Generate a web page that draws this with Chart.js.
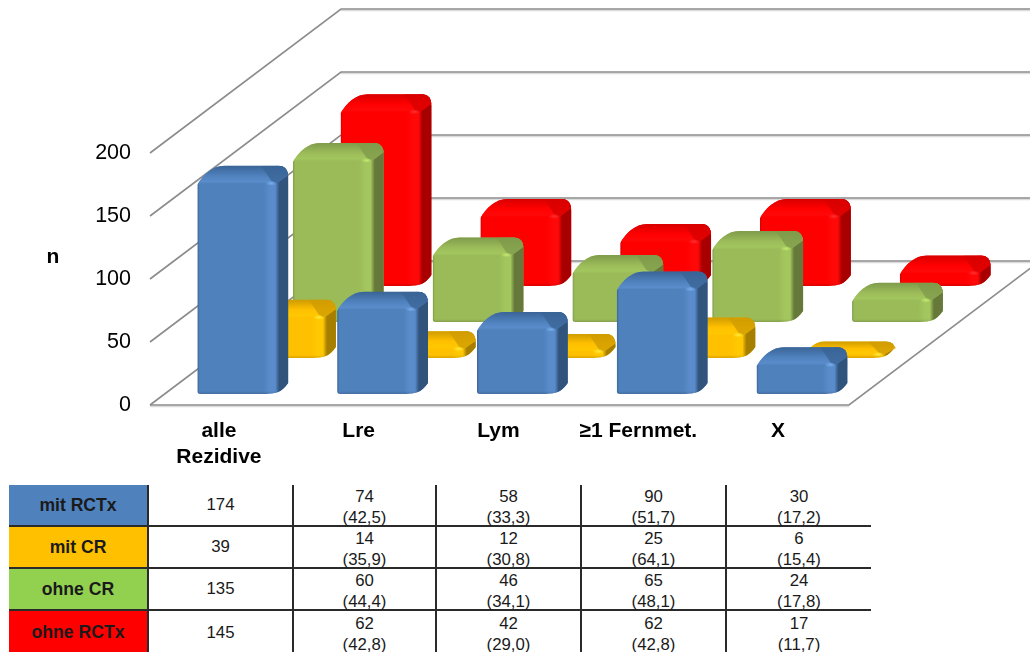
<!DOCTYPE html>
<html>
<head>
<meta charset="utf-8">
<title>Rezidive</title>
<script src="https://cdn.jsdelivr.net/npm/chart.js@4/dist/chart.umd.min.js"></script>
<style>
    html, body { margin: 0; padding: 0; background: #fff; overflow: hidden; }
    #wrap { position: relative; width: 1030px; height: 652px; overflow: hidden; font-family: "Liberation Sans", Arial, sans-serif; }
    #recurrence { position: absolute; left: 0; top: 0; }
    #counts { position: absolute; left: 9px; top: 485px; width: 862px; table-layout: fixed; border-collapse: collapse; color: #1a1a1a; font-size: 16.8px; text-align: center; }
    #counts td { padding: 0; border-top: 2px solid #2a2a2a; border-left: 2px solid #2a2a2a; box-sizing: border-box; }
    #counts td div { margin: -0.5px 0 -2.5px; padding-top: 1px; line-height: 21px; }
    #counts tr:first-child td { border-top: none; }
    #counts td:first-child { border-left: none; font-weight: bold; font-size: 17.6px; }
</style>
</head>
<body>
<div id="wrap">
    <canvas id="recurrence" width="1030" height="484"></canvas>
    <table id="counts"></table>
</div>
<script>
const categories = [['alle', 'Rezidive'], 'Lre', 'Lym', '≥1 Fernmet.', 'X'];
const seriesNames = ['mit RCTx', 'mit CR', 'ohne CR', 'ohne RCTx'];
const yTicks = [0, 50, 100, 150, 200];

const mitRCTx = [174, 74, 58, 90, 30];
const mitCR = [39, 14, 12, 25, 6];
const ohneCR = [135, 60, 46, 65, 24];
const ohneRCTx = [145, 62, 42, 62, 17];

const pctMitRCTx = [null, '42,5', '33,3', '51,7', '17,2'];
const pctMitCR = [null, '35,9', '30,8', '64,1', '15,4'];
const pctOhneCR = [null, '44,4', '34,1', '48,1', '17,8'];
const pctOhneRCTx = [null, '42,8', '29,0', '42,8', '11,7'];

// face, side, back of the cap, lit strip, glint (as r,g,b), table cell
const palettes = [
    { face: '#4f81bd', side: '#31547d', cap: '#3a6496', light: '#5a8ccb', spot: '120,175,240', cell: '#4f81bd' },
    { face: '#ffc000', side: '#a67e00', cap: '#cf9c00', light: '#ffc800', spot: '255,235,60', cell: '#ffc000' },
    { face: '#9bbb59', side: '#66793a', cap: '#7f9b4b', light: '#a3c65e', spot: '195,235,110', cell: '#92d050' },
    { face: '#ff0000', side: '#a80000', cap: '#d80000', light: '#ff0808', spot: '255,50,50', cell: '#ff0000' }
];

const rowHeights = [41, 42, 41, 44];
const colWidths = [139, 145, 143, 145, 145, 145];

const DEPTH_X = 191, DEPTH_Y = 144;   // oblique offset of the back wall
const SIDE = 12, FOOT = 9, BEVEL = 17;

function silhouette(ctx, L, R, T, F, B) {
    const Rf = R - SIDE;
    const k = (F - T) / BEVEL;
    ctx.beginPath();
    ctx.moveTo(L, B - 3);
    ctx.lineTo(L, F + 2);
    ctx.bezierCurveTo(L + 6 * k, F - 8 * k, L + 15 * k, T, L + 27 * k, T);
    ctx.lineTo(R - 10, T);
    ctx.quadraticCurveTo(R, T, R, T + 12 * k);
    ctx.lineTo(R, B - FOOT - 2);
    ctx.quadraticCurveTo(Rf + 7, B - 4, Rf + 2, B - 2);
    ctx.quadraticCurveTo(Rf - 3, B, Rf - 10, B);
    ctx.lineTo(L + 3, B);
    ctx.quadraticCurveTo(L, B, L, B - 3);
    ctx.closePath();
}

function drawBar(ctx, el, row, pal) {
    const sx = DEPTH_X * (row + 0.5) / 4 - 1, sy = DEPTH_Y * (row + 0.5) / 4;
    const L = el.x + sx - el.width / 2, R = L + el.width, Rf = R - SIDE;
    const B = el.base - sy + 7;
    const T = el.y - sy - 2;
    const F = Math.min(T + BEVEL, B - 4);

    ctx.save();
    silhouette(ctx, L, R, T, F, B);
    ctx.clip();

    // front face with the lit strip on its right edge
    const face = ctx.createLinearGradient(L, 0, Rf, 0);
    face.addColorStop(0, pal.cap);
    face.addColorStop(0.03, pal.face);
    face.addColorStop(0.84, pal.face);
    face.addColorStop(0.92, pal.light);
    face.addColorStop(1, pal.light);
    ctx.fillStyle = face;
    ctx.fillRect(L, T, R - L, B - T);

    // side face, blending out of the lit strip
    const side = ctx.createLinearGradient(Rf - 1, 0, Rf + 3, 0);
    side.addColorStop(0, pal.light);
    side.addColorStop(1, pal.side);
    ctx.fillStyle = side;
    ctx.beginPath();
    ctx.moveTo(Rf - 1, B + 1);
    ctx.lineTo(R + 1, B - FOOT);
    ctx.lineTo(R + 1, T);
    ctx.lineTo(Rf - 1, T);
    ctx.closePath();
    ctx.fill();

    // top of the bar, fading from the back edge to the lit front edge
    const capEdge = T + (F - T) * 0.5;
    const cap = ctx.createLinearGradient(0, T, 0, F + 1);
    cap.addColorStop(0, pal.cap);
    cap.addColorStop(0.55, pal.face);
    cap.addColorStop(0.88, pal.light);
    cap.addColorStop(1, pal.face);
    ctx.fillStyle = cap;
    ctx.beginPath();
    ctx.moveTo(L - 1, F + 1);
    ctx.lineTo(L - 1, T - 1);
    ctx.lineTo(R + 1, T - 1);
    ctx.lineTo(R + 1, capEdge);
    ctx.lineTo(Rf, F + 1);
    ctx.closePath();
    ctx.fill();

    // darker wedge where the top turns towards the side
    ctx.fillStyle = pal.cap;
    ctx.globalAlpha = 0.8;
    ctx.beginPath();
    ctx.moveTo(Rf - 15, T);
    ctx.lineTo(R + 1, T);
    ctx.lineTo(R + 1, capEdge);
    ctx.lineTo(Rf, F + 1);
    ctx.lineTo(Rf - 5, F - 2);
    ctx.closePath();
    ctx.fill();
    ctx.globalAlpha = 1;

    // small glint on the front corner
    ctx.save();
    ctx.translate(Rf - 5, F + 0.5);
    ctx.scale(1, 0.4);
    const glint = ctx.createRadialGradient(0, 0, 0, 0, 0, 6);
    glint.addColorStop(0, 'rgba(' + pal.spot + ',1)');
    glint.addColorStop(1, 'rgba(' + pal.spot + ',0)');
    ctx.fillStyle = glint;
    ctx.fillRect(-6, -6, 12, 12);
    ctx.restore();

    // foot shading
    const foot = ctx.createLinearGradient(0, B - 3, 0, B);
    foot.addColorStop(0, 'rgba(0,0,0,0)');
    foot.addColorStop(1, 'rgba(0,0,0,0.14)');
    ctx.fillStyle = foot;
    ctx.fillRect(L, B - 3, Rf - L, 3);
    ctx.restore();
}

const bars3d = {
    id: 'bars3d',
    beforeDatasetsDraw(chart) {
        const { ctx, scales: { x, y } } = chart;
        const left = x.left, right = x.right;
        ctx.save();
        ctx.lineCap = 'butt';
        yTicks.forEach(v => {
            const py = y.getPixelForValue(v);
            // soft edge under the wall line
            ctx.strokeStyle = '#dcdcdc';
            ctx.lineWidth = 1.5;
            ctx.beginPath();
            ctx.moveTo(left + DEPTH_X, py - DEPTH_Y + 1.6);
            ctx.lineTo(right + DEPTH_X, py - DEPTH_Y + 1.6);
            ctx.stroke();
            ctx.strokeStyle = '#8c8c8c';
            ctx.lineWidth = 1.6;
            ctx.beginPath();
            ctx.moveTo(left, py);
            ctx.lineTo(left + DEPTH_X, py - DEPTH_Y);
            ctx.lineTo(right + DEPTH_X, py - DEPTH_Y);
            ctx.stroke();
        });
        const y0 = y.getPixelForValue(0);
        ctx.strokeStyle = '#dcdcdc';
        ctx.lineWidth = 1.5;
        ctx.beginPath();
        ctx.moveTo(left, y0 + 1.6);
        ctx.lineTo(right, y0 + 1.6);
        ctx.stroke();
        ctx.strokeStyle = '#8c8c8c';
        ctx.lineWidth = 1.6;
        ctx.beginPath();
        ctx.moveTo(left, y0);
        ctx.lineTo(right, y0);
        ctx.lineTo(right + DEPTH_X, y0 - DEPTH_Y);
        ctx.stroke();

        // axis name stays upright, which a scale title would not
        ctx.fillStyle = '#000';
        ctx.font = 'bold 21px "Liberation Sans"';
        ctx.textAlign = 'center';
        ctx.textBaseline = 'middle';
        ctx.fillText('n', 53, 257);
        ctx.restore();
    },
    beforeDatasetDraw(chart, args) {
        args.meta.data.forEach(el => drawBar(chart.ctx, el, args.index, palettes[args.index]));
        return false;
    }
};

const values = [mitRCTx, mitCR, ohneCR, ohneRCTx];
const percents = [pctMitRCTx, pctMitCR, pctOhneCR, pctOhneRCTx];

new Chart(document.getElementById('recurrence'), {
    type: 'bar',
    data: {
        labels: categories,
        datasets: values.map((data, i) => ({ label: seriesNames[i], data: data, backgroundColor: palettes[i].face }))
    },
    plugins: [bars3d],
    options: {
        responsive: false,
        animation: false,
        events: [],
        layout: { padding: { top: 153, right: 181, left: 0, bottom: 0 } },
        datasets: { bar: { grouped: false, barPercentage: 0.65, categoryPercentage: 1 } },
        plugins: { legend: { display: false }, tooltip: { enabled: false } },
        scales: {
            x: {
                grid: { display: false, drawTicks: false },
                border: { display: false },
                afterFit(scale) { scale.height = 79; },
                ticks: {
                    color: '#000',
                    padding: 14,
                    labelOffset: -1,
                    maxRotation: 0,
                    autoSkip: false,
                    font: { family: '"Liberation Sans"', size: 21, weight: 'bold', lineHeight: 1.2 }
                }
            },
            y: {
                min: 0,
                max: 200,
                grid: { display: false, drawTicks: false },
                border: { display: false },
                afterFit(scale) { scale.width = 150; },
                afterBuildTicks(scale) { scale.ticks = yTicks.map(v => ({ value: v })); },
                ticks: {
                    color: '#000',
                    padding: 19,
                    font: { family: '"Liberation Sans"', size: 21.5 }
                }
            }
        }
    }
});

// data table under the chart
const table = document.getElementById('counts');
const colgroup = document.createElement('colgroup');
colWidths.forEach(w => {
    const col = document.createElement('col');
    col.style.width = w + 'px';
    colgroup.appendChild(col);
});
table.appendChild(colgroup);
seriesNames.forEach((name, i) => {
    const tr = table.insertRow();
    tr.style.height = rowHeights[i] + 'px';
    const head = tr.insertCell();
    head.textContent = name;
    head.style.background = palettes[i].cell;
    values[i].forEach((v, j) => {
        const td = tr.insertCell();
        td.style.height = rowHeights[i] + 'px';
        td.innerHTML = percents[i][j] ? '<div>' + v + '<br>(' + percents[i][j] + ')</div>' : v;
    });
});
</script>
</body>
</html>
